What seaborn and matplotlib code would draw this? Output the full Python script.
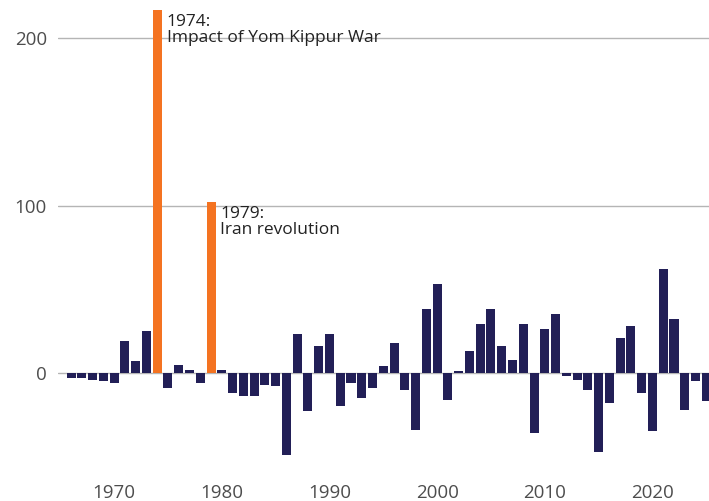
import matplotlib
matplotlib.use("Agg")
import matplotlib.pyplot as plt
import seaborn as sns
import pandas as pd

# yearly change
years = list(range(1966, 2026))
values = [
    -3, -3, -4, -5, -6, 19, 7, 25, 217, -9,
    5, 2, -6, 102, 2, -12, -14, -14, -7, -8,
    -49, 23, -23, 16, 23, -20, -6, -15, -9, 4,
    18, -10, -34, 38, 53, -16, 1, 13, 29, 38,
    16, 8, 29, -36, 26, 35, -2, -4, -10, -47,
    -18, 21, 28, -12, -35, 62, 32, -22, -5, -17,
]
highlight_years = [1974, 1979]
highlight_labels = ["1974:\nImpact of Yom Kippur War", "1979:\nIran revolution"]

navy = "#221f57"
orange = "#f47321"

df = pd.DataFrame({"year": years, "value": values})
df["kind"] = ["shock" if y in highlight_years else "normal" for y in years]

sns.set_theme(style="white")
plt.rcParams["font.family"] = ["Open Sans", "DejaVu Sans"]

fig = plt.figure(figsize=(7.09, 5.01), dpi=100)
ax = fig.add_axes([0.082, 0.062, 0.918, 0.938])

sns.barplot(data=df, x="year", y="value", hue="kind", native_scale=True,
            palette={"normal": navy, "shock": orange}, width=0.84,
            saturation=1, dodge=False, legend=False, linewidth=0,
            ax=ax, zorder=3)

ax.set_xlim(1964.8, 2025.25)
ax.set_ylim(-58, 223)
ax.set_yticks([0, 100, 200])
ax.set_xticks([1970, 1980, 1990, 2000, 2010, 2020])
ax.grid(axis="y", color="#b5b5b5", linewidth=1, zorder=0)
ax.grid(axis="x", visible=False)
ax.set_axisbelow(True)
for s in ax.spines.values():
    s.set_visible(False)
ax.tick_params(axis="both", length=0, labelsize=13.5, labelcolor="#4d4d4d")
ax.tick_params(axis="y", pad=8)
ax.tick_params(axis="x", pad=10)
ax.set_xlabel("")
ax.set_ylabel("")

for yr, lab in zip(highlight_years, highlight_labels):
    v = values[years.index(yr)]
    ax.annotate(lab, xy=(yr + 0.42, v), xytext=(3.5, -2.5), textcoords="offset points",
                ha="left", va="top", fontsize=12.5, color="#222222", linespacing=1.05,
                zorder=4)

fig.savefig("out.png", dpi=100)
